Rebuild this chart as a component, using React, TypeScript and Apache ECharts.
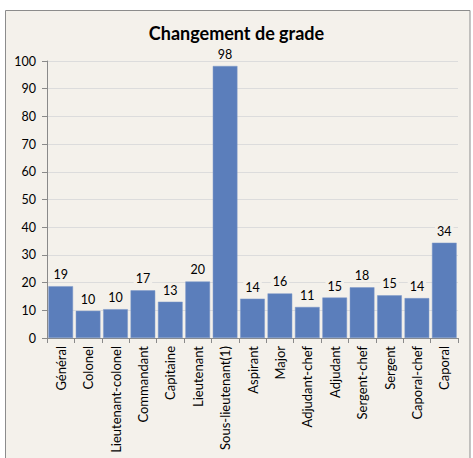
import React, { useEffect, useRef } from "react";
import * as echarts from "echarts";

const categories = [
  "Général",
  "Colonel",
  "Lieutenant-colonel",
  "Commandant",
  "Capitaine",
  "Lieutenant",
  "Sous-lieutenant(1)",
  "Aspirant",
  "Major",
  "Adjudant-chef",
  "Adjudant",
  "Sergent-chef",
  "Sergent",
  "Caporal-chef",
  "Caporal",
];
const values = [18.7, 9.8, 10.4, 17.2, 13.1, 20.4, 98.2, 14.2, 16.1, 11.2, 14.6, 18.3, 15.4, 14.4, 34.4];
const titleText = "Changement de grade";

const FONT = "Lato, 'Open Sans', sans-serif";
const BG = "#f4f1eb";

export default function App() {
  const ref = useRef<HTMLDivElement>(null);
  useEffect(() => {
    document.body.style.margin = "0";
    const chart = echarts.init(ref.current!, null, { renderer: "svg" });
    chart.setOption({
      animation: false,
      backgroundColor: "#ffffff",
      textStyle: { fontFamily: FONT },
      graphic: [
        {
          type: "rect",
          z: -10,
          shape: { x: 5.5, y: 10.5, width: 464.5, height: 470 },
          style: { fill: BG, stroke: "#8c8c8c", lineWidth: 1 },
        },
      ],
      title: {
        text: titleText,
        left: "center",
        top: 19,
        textStyle: { fontFamily: FONT, fontSize: 18, fontWeight: "bold", color: "#000" },
      },
      grid: { left: 47, right: 15, top: 61, bottom: 120, containLabel: false },
      xAxis: {
        type: "category",
        data: categories,
        axisLine: { show: true, lineStyle: { color: "#8a8a8a" } },
        axisTick: { show: true, length: 5, lineStyle: { color: "#8a8a8a" } },
        axisLabel: {
          rotate: 90,
          interval: 0,
          margin: 8,
          fontSize: 13,
          color: "#000",
          fontFamily: FONT,
        },
      },
      yAxis: {
        type: "value",
        min: 0,
        max: 100,
        interval: 10,
        axisLine: { show: true, lineStyle: { color: "#8a8a8a" } },
        axisTick: { show: true, length: 5, lineStyle: { color: "#8a8a8a" } },
        axisLabel: { fontSize: 12.5, color: "#000", margin: 11, fontFamily: FONT },
        splitLine: { show: true, lineStyle: { color: "#dcdcdc" } },
      },
      series: [
        {
          type: "bar",
          data: values,
          barCategoryGap: "10%",
          itemStyle: { color: "#5b7ebb", borderColor: "#7d98c8", borderWidth: 0.5 },
          label: {
            show: true,
            position: "top",
            distance: 5,
            fontSize: 12.5,
            color: "#000",
            fontFamily: FONT,
            backgroundColor: BG,
            padding: [0, 2],
            formatter: (p: any) => String(Math.round(p.value)),
          },
        },
      ],
    });
    return () => chart.dispose();
  }, []);
  return <div ref={ref} style={{ position: "fixed", left: 0, top: 0, width: 473, height: 458 }} />;
}
